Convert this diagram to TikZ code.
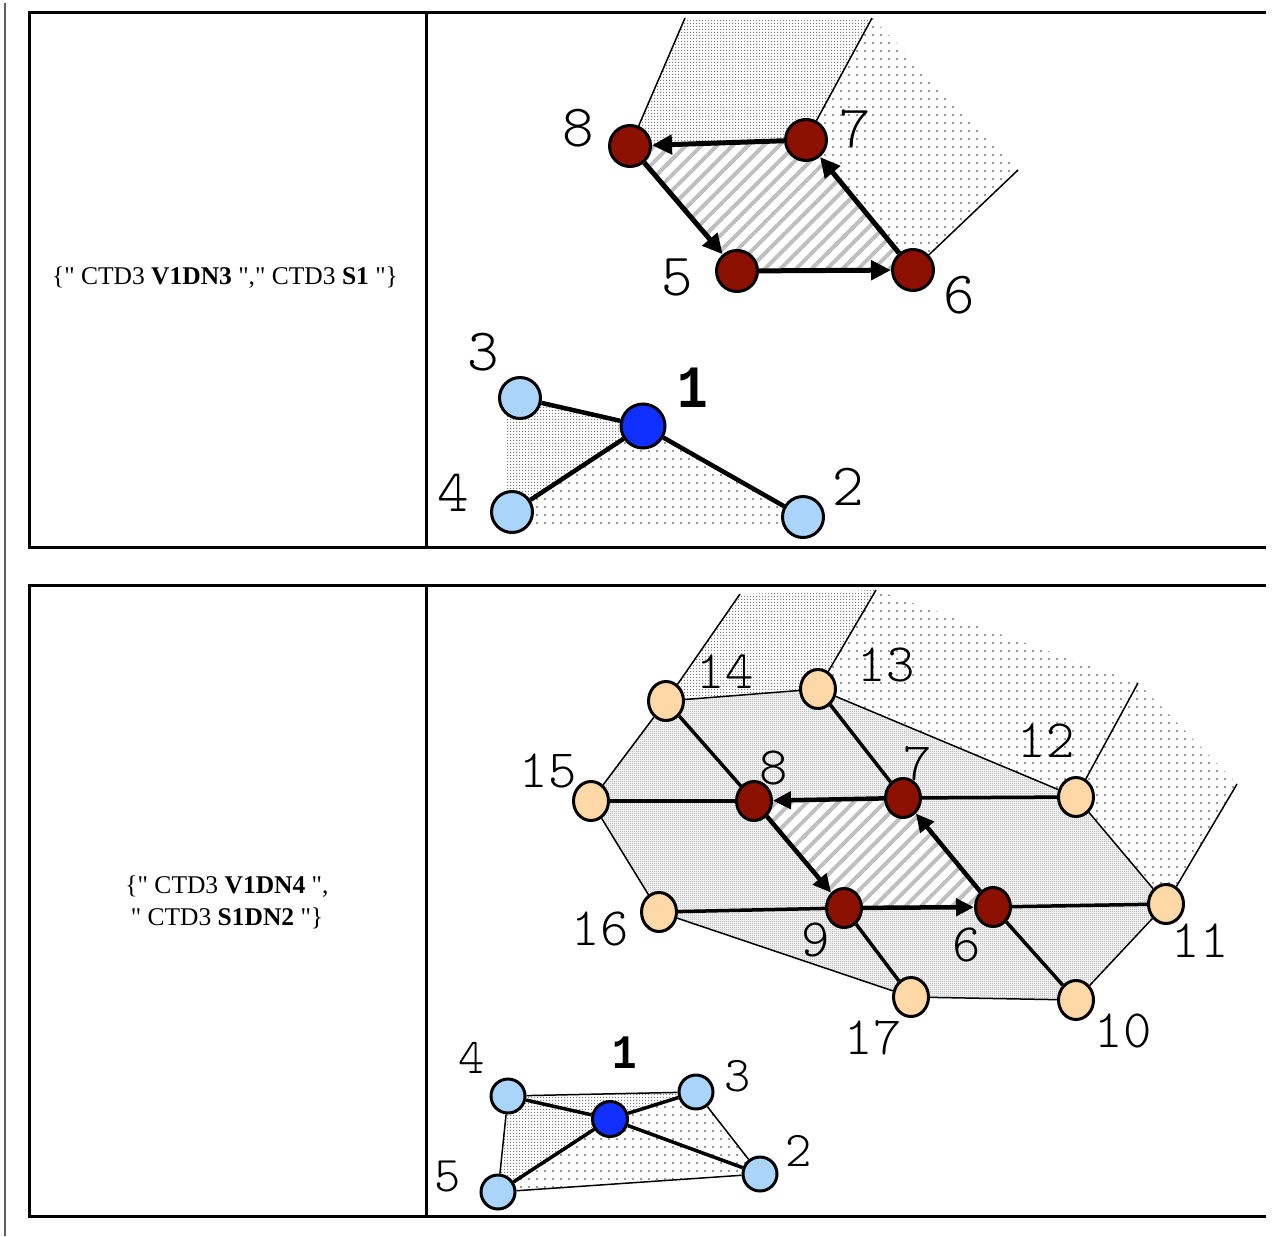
\documentclass[tikz,border=0pt]{standalone}
\usepackage{fontspec}
\setmainfont{Liberation Serif}
\newfontfamily\lblfont{lmmonolt10-regular.otf}
\newfontfamily\lblbold[FakeStretch=0.85]{Liberation Mono}
\newcommand\sq{\XeTeXglyph\XeTeXcharglyph"22\relax}
\usetikzlibrary{arrows.meta,patterns,patterns.meta,shapes.geometric}
\pgfdeclarelayer{bg}
\pgfsetlayers{bg,main}
\definecolor{nred}{RGB}{140,16,0}
\definecolor{npeach}{RGB}{255,216,168}
\definecolor{nlblue}{RGB}{170,212,250}
\definecolor{nblue}{RGB}{16,48,255}
\definecolor{leftgray}{RGB}{95,95,95}
\tikzdeclarepattern{
  name=sparsedots,
  type=uncolored,
  bounding box={(0,0) and (8pt,8pt)},
  tile size={(8pt,8pt)},
  code={\fill (0,0) rectangle (2pt,2pt);}
}
\tikzdeclarepattern{
  name=densedots,
  type=uncolored,
  bounding box={(0,0) and (3pt,3pt)},
  tile size={(3pt,3pt)},
  code={\fill (0,0) rectangle (1.4pt,1.4pt);}
}
\tikzdeclarepattern{
  name=checker,
  type=uncolored,
  bounding box={(0,0) and (2pt,2pt)},
  tile size={(2pt,2pt)},
  code={\fill (0,0) rectangle (1pt,1pt); \fill (1pt,1pt) rectangle (2pt,2pt);}
}
\tikzdeclarepattern{
  name=hatch,
  type=uncolored,
  bounding box={(0,-2pt) and (11pt,2pt)},
  tile size={(11pt,11pt)},
  tile transformation={rotate=45},
  code={\fill (0,-2pt) rectangle (11pt,2pt);}
}
\tikzset{
  tableline/.style={line width=3pt},
  rednode/.style={circle, draw=black, line width=3pt, fill=nred, minimum size=41pt, inner sep=0pt},
  lbnode/.style={circle, draw=black, line width=3pt, fill=nlblue, minimum size=41pt, inner sep=0pt},
  bluenode/.style={circle, draw=black, line width=3pt, fill=nblue, minimum size=44pt, inner sep=0pt},
  redell/.style={ellipse, draw=black, line width=3pt, fill=nred, minimum width=35pt, minimum height=39pt, inner sep=0pt},
  peachell/.style={ellipse, draw=black, line width=3pt, fill=npeach, minimum width=35pt, minimum height=39pt, inner sep=0pt},
  lbsmall/.style={circle, draw=black, line width=3pt, fill=nlblue, minimum size=34pt, inner sep=0pt},
  bluesmall/.style={circle, draw=black, line width=3pt, fill=nblue, minimum size=35pt, inner sep=0pt},
  thickarrow/.style={line width=5pt, -{Triangle[length=20pt,width=19pt]}},
  midarrow/.style={line width=4.5pt, -{Triangle[length=18pt,width=17pt]}},
  thickedge/.style={line width=4.5pt},
  medge/.style={line width=3.5pt},
  thinedge/.style={line width=1.5pt},
  lblA/.style={font=\lblfont\fontsize{60}{60}\selectfont, inner sep=0pt},
  lblB/.style={font=\lblfont\fontsize{54}{54}\selectfont, inner sep=0pt},
  lblC/.style={font=\lblfont\fontsize{50}{50}\selectfont, inner sep=0pt},
  txt/.style={font=\fontsize{25.5}{32}\selectfont, inner sep=0pt, align=center},
  dense/.style={pattern=densedots, pattern color=black!50},
  sparse/.style={pattern=sparsedots, pattern color=black!40},
  hatched/.style={pattern=hatch, pattern color=black!25},
  checkered/.style={pattern=checker, pattern color=black!50}
}
\begin{document}
\begin{tikzpicture}[x=1pt,y=-1pt]
\useasboundingbox (0,0) rectangle (1284,1236);
% ---------- table ----------
\draw[line width=2pt, leftgray] (5,3) -- (5,1236);
\draw[tableline] (1266,13) -- (29.5,13) -- (29.5,547.5) -- (1266,547.5);
\draw[tableline] (426,13) -- (426,547.5);
\draw[tableline] (1266,585.5) -- (29.5,585.5) -- (29.5,1216.5) -- (1266,1216.5);
\draw[tableline] (426,585.5) -- (426,1216.5);
% ---------- texts ----------
\node[txt] (t1) at (225,278) {\{\sq{} CTD3 \textbf{V1DN3} \sq,\sq{} CTD3 \textbf{S1} \sq\}};
\node[txt] (t2) at (227,902) {\{\sq{} CTD3 \textbf{V1DN4} \sq,\\\sq{} CTD3 \textbf{S1DN2} \sq\}};
% ---------- panel 1 nodes ----------
\node[rednode] (a8) at (630,146) {};
\node[rednode] (a7) at (806,140) {};
\node[rednode] (a5) at (737,271) {};
\node[rednode] (a6) at (913,270) {};
\node[bluenode] (a1) at (643,426) {};
\node[lbnode] (a3) at (520,398) {};
\node[lbnode] (a4) at (512,512) {};
\node[lbnode] (a2) at (803,517) {};
\coordinate (a8t) at (685,18);
\coordinate (a7t) at (872,18);
\coordinate (a6t) at (1018,170);
\begin{pgfonlayer}{bg}
\fill[dense] (a8.center) -- (a8t) -- (a7t) -- (a7.center) -- cycle;
\fill[sparse] (a7.center) -- (a7t) -- (a6t) -- (a6.center) -- cycle;
\fill[hatched] (a8.center) -- (a7.center) -- (a6.center) -- (a5.center) -- cycle;
\fill[dense] (507,400) -- (a3.center) -- (a1.center) -- (a4.center) -- (507,505) -- cycle;
\fill[sparse] (a1.center) -- (a2.center) -- (790,528) -- (525,528) -- (a4.center) -- cycle;
\end{pgfonlayer}
\draw[thinedge] (a8) -- (a8t);
\draw[thinedge] (a7) -- (a7t);
\draw[thinedge] (a6) -- (a6t);
\draw[thickarrow] (a7) -- (a8);
\draw[thickarrow] (a8) -- (a5);
\draw[thickarrow] (a5) -- (a6);
\draw[thickarrow] (a6) -- (a7);
\draw[thickedge] (a3) -- (a1);
\draw[thickedge] (a1) -- (a4);
\draw[thickedge] (a1) -- (a2);
\node[lblA] (l8) at (578,128) {8};
\node[lblA] (l7) at (855,129) {7};
\node[lblA] (l5) at (677,277) {5};
\node[lblA] (l6) at (959,295) {6};
\node[lblA] (l3) at (483,352) {3};
\node[lblA] (l4) at (453,493) {4};
\node[lblA] (l2) at (848,487) {2};
\node[lblA, font=\lblbold\bfseries\fontsize{60}{60}\selectfont] (l1) at (693,388) {1};
% ---------- panel 2 nodes ----------
\node[peachell] (b14) at (666,701) {};
\node[peachell] (b13) at (818,689) {};
\node[peachell] (b12) at (1076,797) {};
\node[peachell] (b15) at (591,801) {};
\node[redell] (b8) at (754,801) {};
\node[redell] (b7) at (903,798) {};
\node[peachell] (b16) at (659,912) {};
\node[redell] (b9) at (844,908) {};
\node[redell] (b6) at (993,907) {};
\node[peachell] (b11) at (1166,904) {};
\node[peachell] (b17) at (911,997) {};
\node[peachell] (b10) at (1076,1000) {};
\coordinate (b14t) at (740,594);
\coordinate (b13t) at (876,590);
\coordinate (b12t) at (1138,683);
\coordinate (b11t) at (1237,784);
\begin{pgfonlayer}{bg}
\fill[dense] (b14.center) -- (b14t) -- (b13t) -- (b13.center) -- cycle;
\fill[sparse] (b13.center) -- (b13t) -- (b12t) -- (b12.center) -- cycle;
\fill[sparse] (b12.center) -- (b12t) -- (b11t) -- (b11.center) -- cycle;
\fill[checkered] (b14.center) -- (b13.center) -- (b12.center) -- (b11.center) -- (b10.center) -- (b17.center) -- (b16.center) -- (b15.center) -- cycle;
\fill[white] (b8.center) -- (b7.center) -- (b6.center) -- (b9.center) -- cycle;
\fill[hatched] (b8.center) -- (b7.center) -- (b6.center) -- (b9.center) -- cycle;
\end{pgfonlayer}
\draw[thinedge] (b14) -- (b14t);
\draw[thinedge] (b13) -- (b13t);
\draw[thinedge] (b12) -- (b12t);
\draw[thinedge] (b11) -- (b11t);
\draw[thinedge] (b14) -- (b13);
\draw[thinedge] (b13) -- (b12);
\draw[thinedge] (b12) -- (b11);
\draw[thinedge] (b11) -- (b10);
\draw[thinedge] (b10) -- (b17);
\draw[thinedge] (b17) -- (b16);
\draw[thinedge] (b16) -- (b15);
\draw[thinedge] (b15) -- (b14);
\draw[medge] (b15) -- (b8);
\draw[medge] (b7) -- (b12);
\draw[medge] (b16) -- (b9);
\draw[medge] (b6) -- (b11);
\draw[medge] (b14) -- (b8);
\draw[medge] (b9) -- (b17);
\draw[medge] (b13) -- (b7);
\draw[medge] (b6) -- (b10);
\draw[midarrow] (b7) -- (b8);
\draw[midarrow] (b8) -- (b9);
\draw[midarrow] (b9) -- (b6);
\draw[midarrow] (b6) -- (b7);
\node[lblB] (m14) at (725,672) {14};
\node[lblB] (m13) at (886,665) {13};
\node[lblB] (m12) at (1046,741) {12};
\node[lblB] (m15) at (548,771) {15};
\node[lblB] (m8) at (774,768) {8};
\node[lblB] (m7) at (918,764) {7};
\node[lblB] (m16) at (600,929) {16};
\node[lblB] (m9) at (816,940) {9};
\node[lblB] (m6) at (967,945) {6};
\node[lblB] (m11) at (1200,941) {11};
\node[lblB] (m17) at (873,1038) {17};
\node[lblB] (m10) at (1123,1031) {10};
% ---------- panel 2 small graph ----------
\node[lbsmall] (c4) at (508,1096) {};
\node[lbsmall] (c3) at (696,1092) {};
\node[bluesmall] (c1) at (610,1119) {};
\node[lbsmall] (c5) at (498,1192) {};
\node[lbsmall] (c2) at (760,1174) {};
\begin{pgfonlayer}{bg}
\fill[dense] (c4.center) -- (c3.center) -- (c1.center) -- cycle;
\fill[dense] (c4.center) -- (c1.center) -- (c5.center) -- cycle;
\fill[sparse] (c1.center) -- (c3.center) -- (c2.center) -- cycle;
\fill[sparse] (c5.center) -- (c1.center) -- (c2.center) -- cycle;
\end{pgfonlayer}
\draw[thinedge] (c4) -- (c3);
\draw[thinedge] (c3) -- (c2);
\draw[thinedge] (c2) -- (c5);
\draw[thinedge] (c5) -- (c4);
\draw[medge] (c4) -- (c1);
\draw[medge] (c1) -- (c3);
\draw[medge] (c1) -- (c5);
\draw[medge] (c1) -- (c2);
\node[lblC] (n4) at (472,1058) {4};
\node[lblC, font=\lblbold\bfseries\fontsize{48}{48}\selectfont] (n1) at (625,1053) {1};
\node[lblC] (n3) at (738,1076) {3};
\node[lblC] (n5) at (448,1176) {5};
\node[lblC] (n2) at (799,1151) {2};
\end{tikzpicture}
\end{document}
